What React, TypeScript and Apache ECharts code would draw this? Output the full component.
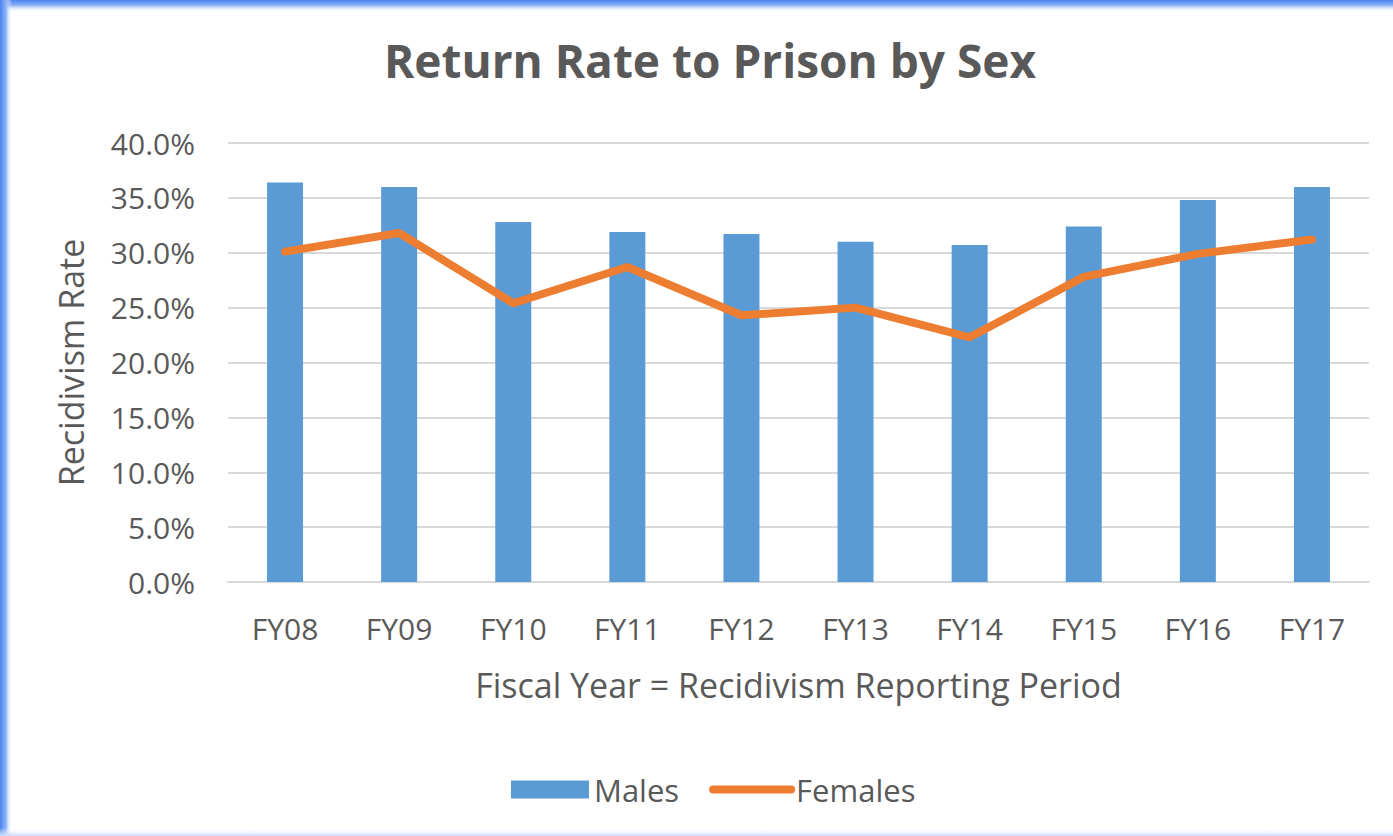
import React, { useEffect, useRef } from "react";
import * as echarts from "echarts";

const categories = ["FY08", "FY09", "FY10", "FY11", "FY12", "FY13", "FY14", "FY15", "FY16", "FY17"];
const males = [36.4, 36.0, 32.8, 31.9, 31.7, 31.0, 30.7, 32.4, 34.8, 36.0];
const females = [30.1, 31.8, 25.4, 28.7, 24.3, 25.0, 22.3, 27.8, 29.9, 31.2];
const yTicks = { min: 0, max: 40, interval: 5 };

const TEXT = "#595959";
const FONT = "Open Sans";

export default function App() {
  const ref = useRef<HTMLDivElement>(null);
  useEffect(() => {
    if (!ref.current) return;
    const chart = echarts.init(ref.current, null, { renderer: "svg" });
    chart.setOption({
      animation: false,
      backgroundColor: "#ffffff",
      textStyle: { fontFamily: FONT, color: TEXT },
      title: {
        text: "Return Rate to Prison by Sex",
        left: 705,
        textAlign: "center",
        top: 32,
        textStyle: { fontFamily: FONT, fontWeight: "bold", fontSize: 46, color: TEXT },
      },
      legend: {
        bottom: 26,
        left: 506,
        itemWidth: 78,
        itemHeight: 18,
        itemGap: 30,
        textStyle: { fontFamily: FONT, fontSize: 31, color: TEXT },
        data: [
          { name: "Males", icon: "rect" },
          {
            name: "Females",
            itemStyle: { opacity: 0, borderWidth: 0 },
            lineStyle: { width: 8, color: "#ED7D31", cap: "round" },
          },
        ],
      },
      grid: { left: 228, right: 24, top: 143, bottom: 254, containLabel: false },
      xAxis: {
        type: "category",
        data: categories,
        name: "Fiscal Year = Recidivism Reporting Period",
        nameLocation: "middle",
        nameGap: 86,
        nameTextStyle: { fontFamily: FONT, fontSize: 34, color: TEXT },
        axisLine: { lineStyle: { color: "#d9d9d9", width: 2 } },
        axisTick: { show: false },
        axisLabel: { margin: 31, fontFamily: FONT, fontSize: 30, color: TEXT },
      },
      yAxis: {
        type: "value",
        min: yTicks.min,
        max: yTicks.max,
        interval: yTicks.interval,
        name: "Recidivism Rate",
        nameLocation: "middle",
        nameGap: 140,
        nameRotate: 90,
        nameTextStyle: { fontFamily: FONT, fontSize: 34, color: TEXT },
        axisLine: { show: false },
        axisTick: { show: false },
        axisLabel: {
          margin: 33,
          fontFamily: FONT,
          fontSize: 30,
          color: TEXT,
          formatter: (v: number) => v.toFixed(1) + "%",
        },
        splitLine: { lineStyle: { color: "#d9d9d9", width: 2 } },
      },
      series: [
        {
          name: "Males",
          type: "bar",
          data: males,
          barWidth: 36,
          itemStyle: { color: "#5B9BD5" },
        },
        {
          name: "Females",
          type: "line",
          data: females,
          symbol: "none",
          lineStyle: { color: "#ED7D31", width: 8, cap: "round", join: "round" },
          itemStyle: { color: "#ED7D31" },
        },
      ],
      graphic: [
        {
          type: "rect",
          left: 0,
          top: 0,
          shape: { width: 1393, height: 12 },
          style: {
            fill: new echarts.graphic.LinearGradient(0, 0, 0, 1, [
              { offset: 0, color: "#4a84f2" },
              { offset: 0.45, color: "#8fb4f6" },
              { offset: 1, color: "rgba(255,255,255,0)" },
            ]),
          },
          silent: true,
        },
        {
          type: "rect",
          left: 0,
          top: 0,
          shape: { width: 12, height: 836 },
          style: {
            fill: new echarts.graphic.LinearGradient(0, 0, 1, 0, [
              { offset: 0, color: "#4a84f2" },
              { offset: 0.5, color: "#8fb4f6" },
              { offset: 1, color: "rgba(255,255,255,0)" },
            ]),
          },
          silent: true,
        },
        {
          type: "rect",
          left: 0,
          bottom: 0,
          shape: { width: 1393, height: 8 },
          style: {
            fill: new echarts.graphic.LinearGradient(0, 0, 0, 1, [
              { offset: 0, color: "rgba(255,255,255,0)" },
              { offset: 1, color: "#c9dafb" },
            ]),
          },
          silent: true,
        },
      ],
    });
    return () => chart.dispose();
  }, []);
  return (
    <div
      ref={ref}
      style={{ position: "fixed", left: 0, top: 0, width: 1393, height: 836 }}
    />
  );
}
